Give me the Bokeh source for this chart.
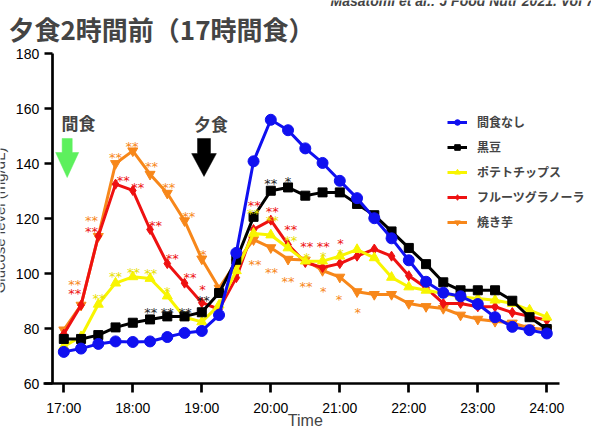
from bokeh.plotting import figure
from bokeh.models import Label, Legend, LegendItem, FixedTicker, Range1d, ColumnDataSource
from bokeh.core.properties import value
from bokeh.embed import file_html
from bokeh.resources import INLINE

# ---- data ----
time_h = [17.0, 17.25, 17.5, 17.75, 18.0, 18.25, 18.5, 18.75, 19.0, 19.25,
          19.5, 19.75, 20.0, 20.25, 20.5, 20.75, 21.0, 21.25, 21.5, 21.75,
          22.0, 22.25, 22.5, 22.75, 23.0, 23.25, 23.5, 23.75, 24.0]
series_names = ["間食なし", "黒豆", "ポテトチップス", "フルーツグラノーラ", "焼き芋"]
no_snack = [71.5, 72.7, 74.4, 75.3, 75.1, 75.3, 76.9, 78.4, 79.1, 84.9,
            107.5, 140.8, 155.9, 152.1, 145.5, 140.2, 133.7, 127.4, 120.1, 112.8,
            104.8, 97.0, 93.0, 91.7, 88.9, 84.1, 80.6, 79.4, 78.2]
black_bean = [76.2, 76.2, 77.6, 80.4, 82.1, 83.3, 84.4, 84.4, 85.9, 92.9,
              105.0, 120.6, 130.1, 131.3, 128.3, 129.5, 129.5, 125.3, 121.2, 115.3,
              109.3, 103.4, 96.8, 93.9, 93.9, 93.9, 90.1, 84.1, 79.8]
potato_chips = [73.5, 77.0, 88.8, 96.5, 98.8, 98.2, 91.8, 84.1, 82.4, 88.5,
                101.0, 114.6, 114.0, 109.3, 104.5, 104.5, 106.3, 108.7, 105.7, 98.6,
                95.1, 93.9, 92.7, 91.5, 90.9, 90.3, 89.1, 86.7, 84.1]
granola = [78.0, 88.5, 113.6, 132.5, 130.2, 116.0, 103.6, 96.5, 89.4, 87.0,
           98.5, 116.0, 119.4, 110.5, 104.0, 102.2, 103.6, 106.3, 108.9, 106.3,
           99.2, 94.8, 89.1, 89.1, 87.9, 87.9, 85.8, 84.4, 83.0]
sweet_potato = [79.5, 88.5, 113.5, 140.0, 144.6, 136.1, 129.2, 119.2, 105.3, 94.7,
                104.0, 112.3, 109.4, 105.2, 104.9, 101.1, 98.7, 93.4, 92.4, 92.4,
                89.1, 88.0, 87.3, 84.9, 83.4, 82.6, 82.0, 80.2, 79.6]

y_ticks = [60, 80, 100, 120, 140, 160, 180]
x_ticks = [17, 18, 19, 20, 21, 22, 23, 24]
x_tick_labels = ["17:00", "18:00", "19:00", "20:00", "21:00", "22:00", "23:00", "24:00"]

# significance marks: (time, level, text)
stars_orange = [(17.16, 98.6, "**"), (17.40, 121.8, "**"), (17.75, 144.6, "**"), (17.99, 148.7, "**"),
                (18.27, 141.4, "**"), (18.52, 134.0, "**"), (18.81, 123.3, "**"), (19.02, 109.5, "*"),
                (19.77, 106.0, "**"), (20.01, 103.0, "**"), (20.25, 99.8, "**"), (20.51, 97.8, "**"),
                (20.76, 95.9, "*"), (20.99, 93.0, "*"), (21.26, 88.3, "*")]
stars_red = [(17.16, 95.1, "**"), (17.40, 118.0, "**"), (17.86, 136.4, "**"), (18.07, 134.0, "**"),
             (18.33, 120.0, "**"), (18.57, 108.1, "**"), (18.83, 101.0, "**"), (19.01, 96.9, "*"),
             (19.76, 127.4, "**"), (20.02, 125.0, "**"), (20.29, 118.4, "**"), (20.52, 112.5, "**"),
             (20.76, 112.5, "**"), (21.01, 113.5, "*")]
stars_yellow = [(17.51, 93.6, "**"), (17.75, 101.3, "**"), (18.01, 102.8, "**"), (18.26, 102.5, "**"),
                (18.50, 96.0, "*"), (19.75, 124.2, "**"), (20.02, 121.8, "**"), (20.29, 114.7, "**"),
                (20.52, 108.5, "*"), (20.76, 108.7, "*"), (21.01, 109.9, "*")]
stars_black = [(18.26, 88.2, "**"), (18.50, 88.2, "**"), (18.76, 88.5, "**"), (19.02, 92.7, "**"),
               (20.00, 135.1, "**"), (20.25, 136.0, "*")]

BLUE = "#1010F0"
BLACK = "#000000"
YELLOW = "#F8F500"
RED = "#EE1111"
ORANGE = "#F7871A"

p = figure(width=591, height=429, x_range=Range1d(16.0826, 24.6478), y_range=Range1d(43.273, 199.273),
           output_backend="svg", toolbar_location=None,
           min_border_left=0, min_border_right=0, min_border_top=0, min_border_bottom=0)
p.outline_line_color = None
p.grid.grid_line_color = None
p.background_fill_color = "white"

for ax in (p.xaxis[0], p.yaxis[0]):
    ax.axis_line_width = 2.7
    ax.major_tick_line_width = 2.7
    ax.major_tick_in = 0
    ax.minor_tick_line_color = None
    ax.major_label_text_font = "Liberation Sans"
    ax.major_label_text_font_size = "14px"
    ax.major_label_text_color = "black"
p.yaxis.ticker = FixedTicker(ticks=y_ticks)
p.yaxis.fixed_location = 16.832
p.yaxis.bounds = (60, 180)
p.yaxis.major_tick_out = 8
p.yaxis.major_label_standoff = 5
p.xaxis.ticker = FixedTicker(ticks=x_ticks)
p.xaxis.fixed_location = 60
p.xaxis.bounds = (16.71, 24.18)
p.xaxis.major_tick_out = 9
p.xaxis.major_label_overrides = {t: s for t, s in zip(x_ticks, x_tick_labels)}
p.xaxis.major_label_standoff = 7

series = [
    (sweet_potato, ORANGE, "inverted_triangle", 10, 4),
    (granola, RED, "diamond", 10, 3),
    (potato_chips, YELLOW, "triangle", 10, 2),
    (black_bean, BLACK, "square", 9, 1),
    (no_snack, BLUE, "circle", 11, 0),
]
renderers = {}
for vals, col, mk, sz, idx in series:
    src = ColumnDataSource(dict(x=time_h, y=vals))
    ln = p.line("x", "y", source=src, line_color=col, line_width=3)
    sc = p.scatter("x", "y", source=src, marker=mk, size=sz, fill_color=col, line_color=col)
    renderers[idx] = [ln, sc]

def add_stars(lst, col):
    src = ColumnDataSource(dict(x=[a for a, b, c in lst], y=[b for a, b, c in lst], t=[c for a, b, c in lst]))
    p.text("x", "y", text="t", source=src, text_color=col, text_font=value("DejaVu Sans"),
           text_font_size="13px", text_align="center", text_baseline="middle", y_offset=7)

add_stars(stars_orange, ORANGE)
add_stars(stars_red, RED)
add_stars(stars_yellow, "#E8E000")
add_stars(stars_black, "#222222")

# arrows (meal markers)
def block_arrow(xc, y_top, y_base, y_tip, shaft_half, head_half, col):
    xs = [xc - shaft_half, xc + shaft_half, xc + shaft_half, xc + head_half, xc,
          xc - head_half, xc - shaft_half]
    ys = [y_top, y_top, y_base, y_base, y_tip, y_base, y_base]
    p.patch(xs, ys, fill_color=col, line_color=col, line_width=0.5)

block_arrow(17.049, 149.1, 144.0, 134.9, 0.073, 0.167, "#5DF05D")
block_arrow(19.032, 149.1, 143.6, 135.3, 0.094, 0.179, "#000000")

p.add_layout(Label(x=17.213, y=154.9, text="間食", text_font="Noto Sans CJK JP", text_font_style="bold",
                   text_font_size="17px", text_align="center", text_baseline="middle"))
p.add_layout(Label(x=19.135, y=154.7, text="夕食", text_font="Noto Sans CJK JP", text_font_style="bold",
                   text_font_size="17px", text_align="center", text_baseline="middle"))

# title and other texts
p.add_layout(Label(x=16.1986, y=189.1, text="夕食2時間前（17時間食）", text_font="Noto Sans CJK JP",
                   text_font_style="bold", text_font_size="26px", text_align="left", text_baseline="middle"))
p.add_layout(Label(x=20.865, y=199.0, text="Masatomi et al.: J Food Nutr 2021. Vol 7, 204",
                   text_font="Liberation Sans", text_font_style="bold italic", text_font_size="14px",
                   text_align="left", text_baseline="middle"))
p.add_layout(Label(x=20.5, y=46.55, text="Time", text_font="Liberation Sans",
                   text_font_size="16px", text_align="center", text_baseline="middle"))
p.add_layout(Label(x=16.068, y=119.3, text="Glucose level (mg/dL)", text_font="Liberation Sans",
                   text_font_size="15px", text_align="center", text_baseline="middle", angle=1.5708))

legend = Legend(items=[LegendItem(label=series_names[i], renderers=renderers[i]) for i in range(5)],
                location=(447, 199), border_line_color=None, background_fill_alpha=0,
                padding=0, margin=0, spacing=8, glyph_width=20, glyph_height=14, label_height=14,
                label_standoff=10, label_text_font="Noto Sans CJK JP", label_text_font_style="bold",
                label_text_font_size="12px")
p.add_layout(legend)

open("out.html", "w").write(file_html(p, INLINE))
